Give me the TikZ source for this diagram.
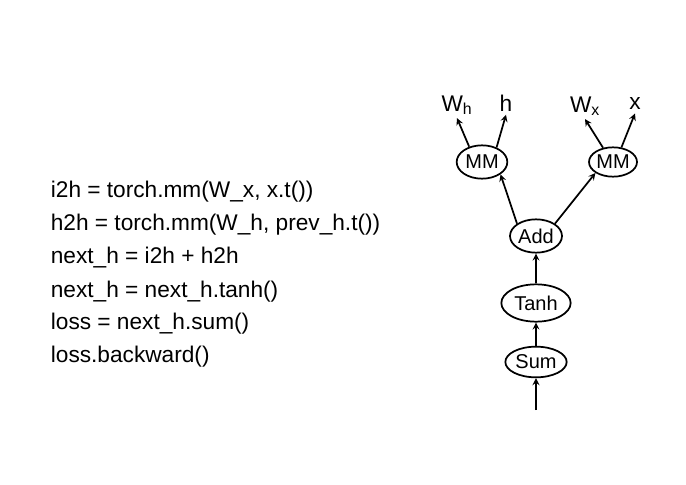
\documentclass[tikz,border=0pt]{standalone}
\usepackage{fontspec}
\setmainfont{Liberation Sans}
\usetikzlibrary{shapes.geometric}
\begin{document}
\begin{tikzpicture}[x=0.75pt,y=-0.75pt,line width=1.3pt,
    op/.style={draw,ellipse,inner sep=0pt,font=\fontsize{15}{15}\selectfont},
    codeline/.style={anchor=base west,inner sep=0pt,font=\fontsize{17}{17}\selectfont},
    var/.style={inner sep=2pt,font=\fontsize{17}{17}\selectfont},
    arr/.style={->,>=stealth}]
    \useasboundingbox (0,0) rectangle (686,485);
    \node[codeline] (c1) at (50,197) {i2h = torch.mm(W\_x, x.t())};
    \node[codeline] (c2) at (50,230) {h2h = torch.mm(W\_h, prev\_h.t())};
    \node[codeline] (c3) at (50,263) {next\_h = i2h + h2h};
    \node[codeline] (c4) at (50,297) {next\_h = next\_h.tanh()};
    \node[codeline] (c5) at (50,329) {loss = next\_h.sum()};
    \node[codeline] (c6) at (50,362) {loss.backward()};
    \node[op,minimum width=46pt,minimum height=23pt] (sum) at (536,362) {Sum};
    \node[op,minimum width=52pt,minimum height=28pt] (tanh) at (536,303) {Tanh};
    \node[op,minimum width=39pt,minimum height=25pt] (add) at (536,236) {Add};
    \node[op,minimum width=38pt,minimum height=25pt] (mml) at (482,162) {MM};
    \node[op,minimum width=36pt,minimum height=22pt] (mmr) at (613,162) {MM};
    \node[var] (wh) at (457,105) {W\textsubscript{h}};
    \node[var] (h) at (506,103) {h};
    \node[var] (wx) at (585,106) {W\textsubscript{x}};
    \node[var] (x) at (635,104) {x};
    \coordinate (in) at (536,410);
    \draw[arr] (in) -- (sum.south);
    \draw[arr] (sum) -- (tanh);
    \draw[arr] (tanh) -- (add);
    \draw[arr] (add.north west) -- (mml.south east);
    \draw[arr] (add.north east) -- (mmr.south west);
    \draw[arr] (mml.130) -- (wh.south);
    \draw[arr] (mml.45) -- (h.south);
    \draw[arr] (mmr.125) -- (wx.south);
    \draw[arr] (mmr.60) -- (x.south);
\end{tikzpicture}
\end{document}
